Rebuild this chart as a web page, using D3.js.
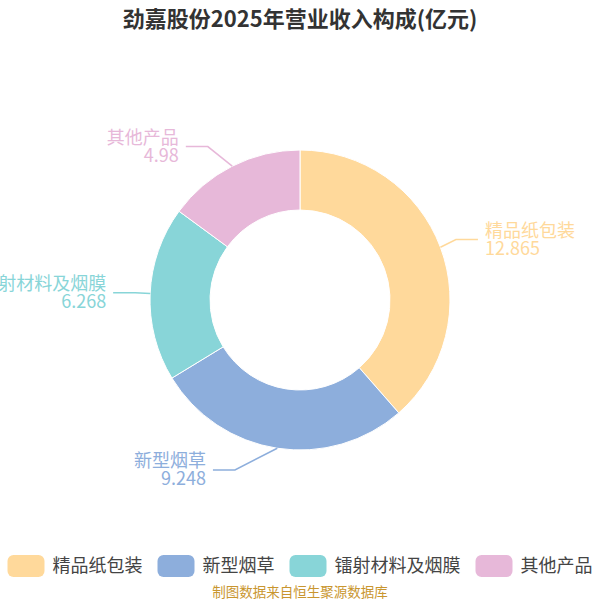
<!DOCTYPE html>
<html>
<head>
<meta charset="utf-8">
<script src="https://cdn.jsdelivr.net/npm/d3@7"></script>
<style>
  body { margin: 0; background: #fff; }
  text { font-family: "Noto Sans CJK SC", "Noto Sans", sans-serif; }
</style>
</head>
<body>
<div id="chart"></div>
<script>
// chart data
const categories = ["精品纸包装", "新型烟草", "镭射材料及烟膜", "其他产品"];
const values = [12.865, 9.248, 6.268, 4.98];
const valueLabels = ["12.865", "9.248", "6.268", "4.98"];
const colors = ["#FFD99B", "#8DAEDC", "#88D5D8", "#E7B8D9"];

const WIDTH = 600, HEIGHT = 600;
const CX = 300, CY = 300;
const R_OUT = 150, R_IN = 90;

const svg = d3.select("#chart").append("svg")
    .attr("width", WIDTH)
    .attr("height", HEIGHT);

// title
svg.append("text")
    .attr("x", WIDTH / 2)
    .attr("y", 27)
    .attr("text-anchor", "middle")
    .attr("font-size", 22)
    .attr("font-weight", "bold")
    .attr("fill", "#333")
    .text("劲嘉股份2025年营业收入构成(亿元)");

const data = categories.map((c, i) => ({ name: c, value: values[i], label: valueLabels[i], color: colors[i] }));

const pie = d3.pie().sort(null).value(d => d.value);
const arc = d3.arc().innerRadius(R_IN).outerRadius(R_OUT);
const arcs = pie(data);

const g = svg.append("g").attr("transform", `translate(${CX},${CY})`);

g.selectAll("path.slice")
    .data(arcs)
    .enter()
    .append("path")
    .attr("class", "slice")
    .attr("d", arc)
    .attr("fill", d => d.data.color)
    .attr("stroke", "#fff")
    .attr("stroke-width", 1);

// label lines: start on the outer edge, elbow placed on an ellipse, then a short horizontal run
const LEN1 = 22, LEN2 = 22, ELL_A = 165, ELL_B = 185, TEXT_GAP = 7;

arcs.forEach(d => {
    const mid = (d.startAngle + d.endAngle) / 2;
    const dx = Math.sin(mid), dy = -Math.cos(mid);
    const side = dx < 0 ? -1 : 1;
    const x1 = R_OUT * dx, y1 = R_OUT * dy;
    const y2 = (R_OUT + LEN1) * dy;
    const ratio = Math.min(1, Math.abs(y2) / ELL_B);
    const x2 = side * ELL_A * Math.sqrt(1 - ratio * ratio);
    const x3 = x2 + side * LEN2;

    g.append("path")
        .attr("d", d3.line()([[x1, y1], [x2, y2], [x3, y2]]))
        .attr("fill", "none")
        .attr("stroke", d.data.color)
        .attr("stroke-width", 1.5);

    const t = g.append("text")
        .attr("x", x3 + side * TEXT_GAP)
        .attr("y", y2)
        .attr("text-anchor", side < 0 ? "end" : "start")
        .attr("font-size", 18)
        .attr("fill", d.data.color);
    t.append("tspan")
        .attr("x", x3 + side * TEXT_GAP)
        .attr("dy", -3)
        .text(d.data.name);
    t.append("tspan")
        .attr("x", x3 + side * TEXT_GAP)
        .attr("dy", 18)
        .text(d.data.label);
});

// legend
const legend = svg.append("g");
const SW_W = 37, SW_H = 22, SW_GAP = 8, ITEM_GAP = 15, LEG_Y = 566;
let xPos = 0;
data.forEach(d => {
    const item = legend.append("g").attr("transform", `translate(${xPos},0)`);
    item.append("rect")
        .attr("x", 0)
        .attr("y", LEG_Y - SW_H / 2)
        .attr("width", SW_W)
        .attr("height", SW_H)
        .attr("rx", 6)
        .attr("fill", d.color);
    const txt = item.append("text")
        .attr("x", SW_W + SW_GAP)
        .attr("y", LEG_Y)
        .attr("dy", "0.35em")
        .attr("font-size", 18)
        .attr("fill", "#444")
        .text(d.name);
    xPos += SW_W + SW_GAP + txt.node().getComputedTextLength() + ITEM_GAP;
});
const legendWidth = xPos - ITEM_GAP;
legend.attr("transform", `translate(${(WIDTH - legendWidth) / 2},0)`);

// source note
svg.append("text")
    .attr("x", WIDTH / 2)
    .attr("y", 597)
    .attr("text-anchor", "middle")
    .attr("font-size", 13.5)
    .attr("fill", "#C9962F")
    .text("制图数据来自恒生聚源数据库");
</script>
</body>
</html>
